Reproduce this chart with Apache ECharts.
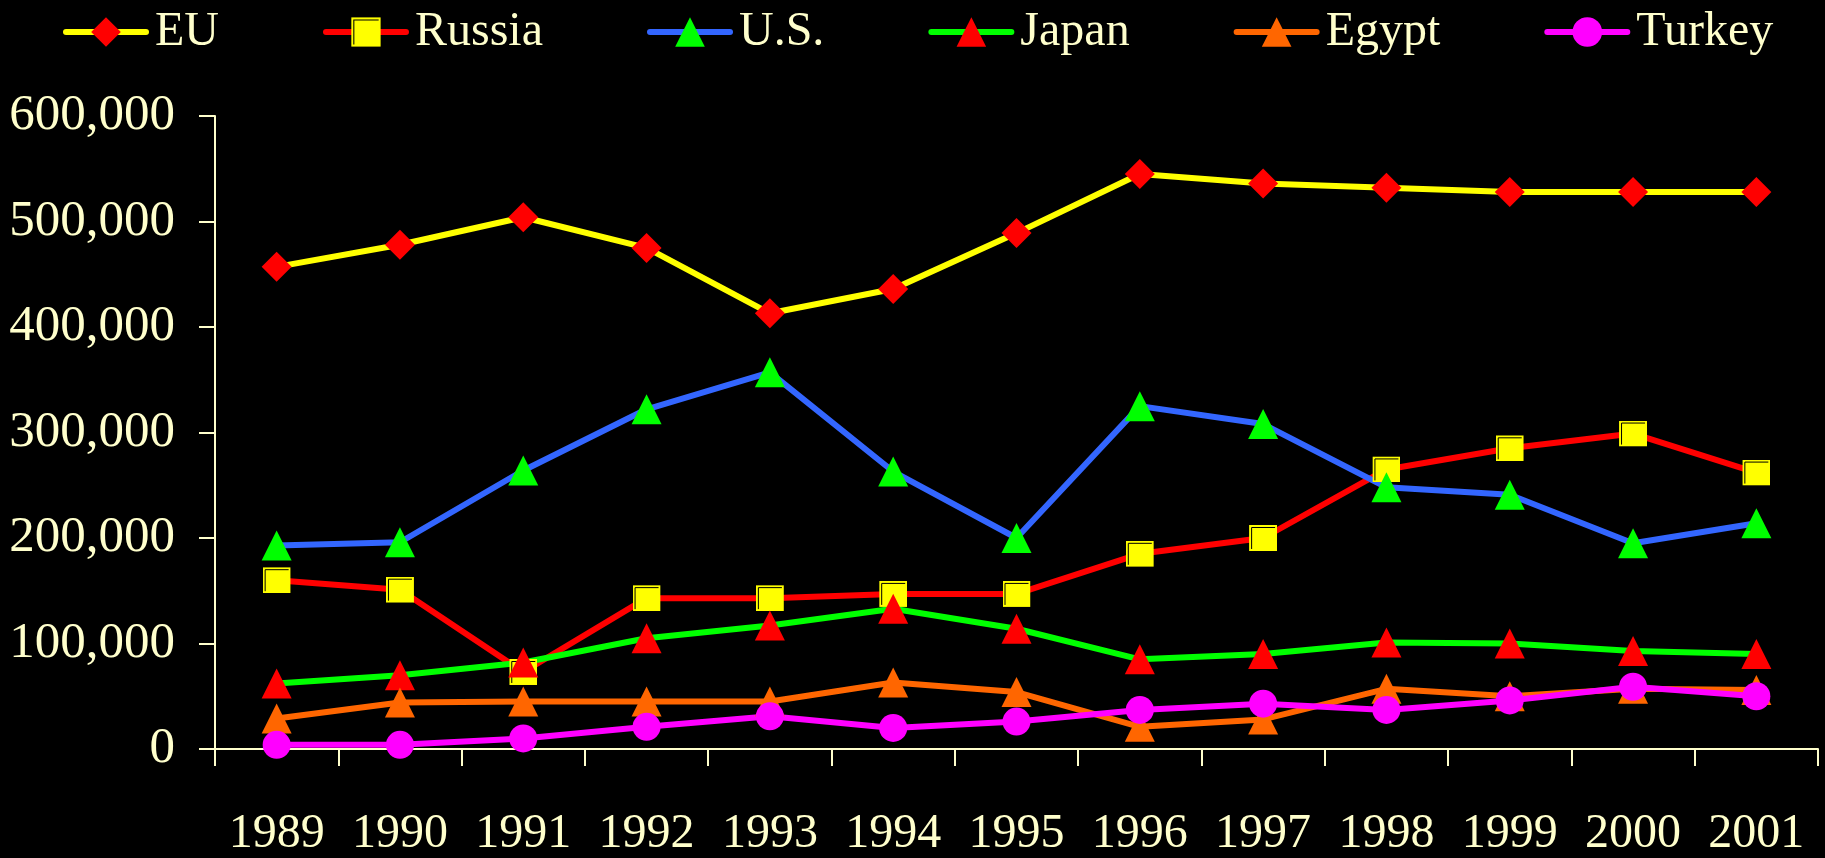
<!DOCTYPE html>
<html>
<head>
<meta charset="utf-8">
<title>Imports 1989-2001</title>
<script src="https://cdn.jsdelivr.net/npm/echarts@6/dist/echarts.min.js"></script>
<style>
    html, body { margin: 0; padding: 0; background: #000; }
    #chart { width: 1825px; height: 858px; }
</style>
</head>
<body>
<div id="chart"></div>
<script>
var years = ['1989', '1990', '1991', '1992', '1993', '1994', '1995', '1996', '1997', '1998', '1999', '2000', '2001'];

var eu     = [457000, 478000, 504000, 475000, 413000, 436000, 489000, 545000, 536000, 532000, 528000, 528000, 528000];
var russia = [160000, 151000, 73000, 143000, 143000, 147000, 147000, 185000, 200000, 265000, 285000, 299000, 262000];
var us     = [193000, 196000, 264000, 322000, 357000, 263000, 200000, 325000, 308000, 248000, 241000, 195000, 214000];
var japan  = [62000, 70000, 82000, 105000, 117000, 133000, 114000, 85000, 90000, 101000, 100000, 93000, 90000];
var egypt  = [29000, 44000, 45000, 45000, 45000, 63000, 54000, 21000, 28000, 57000, 50000, 57000, 56000];
var turkey = [4000, 4000, 10000, 21000, 31000, 20000, 26000, 37000, 43000, 37000, 46000, 59000, 50000];

var yTicks = [0, 100000, 200000, 300000, 400000, 500000, 600000];

var cream = '#FFFFCC';
var font = '"Liberation Serif", "Times New Roman", serif';

// yellow square with the thin dark inner edge seen on the Russia markers
var russiaSymbol = 'image://data:image/svg+xml;utf8,' + encodeURIComponent(
    '<svg xmlns="http://www.w3.org/2000/svg" width="28" height="26" viewBox="0 0 28 26">' +
    '<rect x="0" y="0" width="28" height="26" fill="#FFFF00"/>' +
    '<polyline points="2.5,24 2.5,2.5 26,2.5" fill="none" stroke="#000" stroke-width="1"/>' +
    '</svg>');

function fmt(v) {
    return String(v).replace(/\B(?=(\d{3})+(?!\d))/g, ',');
}

function line(name, data, lineColor, markColor, symbol, size) {
    return {
        name: name,
        type: 'line',
        data: data,
        symbol: symbol,
        symbolSize: size,
        showAllSymbol: true,
        lineStyle: { color: lineColor, width: 6 },
        itemStyle: { color: markColor },
        emphasis: { disabled: true },
        animation: false
    };
}

var myChart = echarts.init(document.getElementById('chart'));

var option = {
    backgroundColor: '#000',
    legend: {
        top: 3,
        left: 58,
        itemWidth: 80,
        itemHeight: 37,
        itemGap: 104,
        lineStyle: { width: 6, cap: 'round' },
        textStyle: { color: cream, fontSize: 48, lineHeight: 37, fontFamily: font, padding: [0, 0, 0, 4] },
        data: ['EU', 'Russia', 'U.S.', 'Japan', 'Egypt', 'Turkey']
    },
    grid: {
        left: 215,
        right: 7,
        top: 116,
        bottom: 100,
        containLabel: false
    },
    xAxis: {
        type: 'category',
        boundaryGap: true,
        data: years,
        axisLine: { lineStyle: { color: cream, width: 2 } },
        axisTick: { show: true, interval: 0, length: 17, lineStyle: { color: cream, width: 2 } },
        axisLabel: { interval: 0, color: cream, fontSize: 48, fontFamily: font, margin: 61 },
        splitLine: { show: false }
    },
    yAxis: {
        type: 'value',
        min: yTicks[0],
        max: yTicks[yTicks.length - 1],
        interval: yTicks[1] - yTicks[0],
        axisLine: { show: true, lineStyle: { color: cream, width: 2 } },
        axisTick: { show: true, length: 16, lineStyle: { color: cream, width: 2 } },
        axisLabel: {
            color: cream, fontSize: 51, fontFamily: font, margin: 40, padding: [7, 0, 0, 0],
            formatter: function (v) { return fmt(v); }
        },
        splitLine: { show: false }
    },
    series: [
        line('EU', eu, '#FFFF00', '#FF0000', 'diamond', 30),
        line('Russia', russia, '#FF0000', '#FFFF00', russiaSymbol, [28, 26]),
        line('U.S.', us, '#3366FF', '#00FF00', 'triangle', 30),
        line('Japan', japan, '#00FF00', '#FF0000', 'triangle', 30),
        line('Egypt', egypt, '#FF6600', '#FF6600', 'triangle', 30),
        line('Turkey', turkey, '#FF00FF', '#FF00FF', 'circle', 28)
    ]
};

myChart.setOption(option);
</script>
</body>
</html>
